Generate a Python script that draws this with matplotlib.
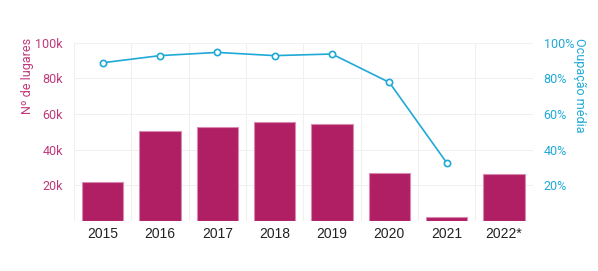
import matplotlib.pyplot as plt
from matplotlib.ticker import FuncFormatter

plt.rcParams['font.family'] = ['Roboto', 'DejaVu Sans']

anos = ['2015', '2016', '2017', '2018', '2019', '2020', '2021', '2022*']
lugares = [21700, 50300, 52900, 55500, 54200, 26700, 2100, 26200]
ocupacao = [88.7, 92.7, 94.5, 92.7, 93.6, 77.7, 32.7]

cor_barra = '#b01f64'
cor_linha = '#1fa9d6'
cor_esq = '#c0397a'

fig = plt.figure(figsize=(5.98, 2.71), dpi=100)
ax = fig.add_axes([0.1237, 0.1845, 0.767, 0.6583])
x = range(len(anos))
ax.bar(x, lugares, width=0.72, color=cor_barra, edgecolor='#d98ab0', linewidth=0.8, zorder=2)
ax.set_xlim(-0.5, len(anos) - 0.5)
ax.set_ylim(0, 100000)
ax.set_yticks([20000, 40000, 60000, 80000, 100000])
ax.yaxis.set_major_formatter(FuncFormatter(lambda v, p: f'{int(v / 1000)}k'))
ax.set_xticks(list(x))
ax.set_xticklabels(anos, family=['Liberation Sans', 'DejaVu Sans'])
ax.set_xticks([i + 0.5 for i in range(-1, len(anos))], minor=True)
ax.grid(axis='y', which='major', color='#f0f0f0', linewidth=0.8, zorder=0)
ax.grid(axis='x', which='minor', color='#f0f0f0', linewidth=0.8, zorder=0)
ax.axhline(0, color='#eeeeee', linewidth=0.8, zorder=1)
for s in ax.spines.values():
    s.set_visible(False)
ax.tick_params(axis='both', which='both', length=0)
ax.tick_params(axis='y', colors=cor_esq, labelsize=9, pad=8)
ax.tick_params(axis='x', colors='#222222', labelsize=10, pad=4)

ax2 = ax.twinx()
ax2.plot(list(range(len(ocupacao))), ocupacao, color=cor_linha, linewidth=1.2,
         marker='o', markersize=4.5, markerfacecolor='white',
         markeredgecolor=cor_linha, markeredgewidth=1.2, zorder=3)
ax2.set_ylim(0, 100)
ax2.set_yticks([20, 40, 60, 80, 100])
ax2.yaxis.set_major_formatter(FuncFormatter(lambda v, p: f'{int(v)}%'))
for s in ax2.spines.values():
    s.set_visible(False)
ax2.tick_params(axis='y', length=0, colors=cor_linha, labelsize=9, pad=8)

fig.text(0.046, 0.86, 'Nº de lugares', color=cor_esq, fontsize=9,
         rotation=90, ha='center', va='top')
fig.text(0.9695, 0.86, 'Ocupação média', color=cor_linha, fontsize=9,
         rotation=270, ha='center', va='top')

fig.savefig('out.png', dpi=100)
